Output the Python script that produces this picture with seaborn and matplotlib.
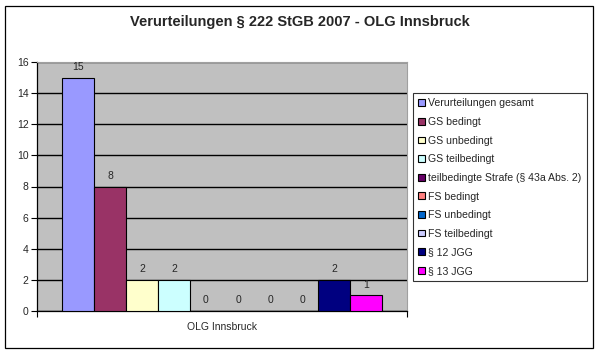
import pandas as pd
import matplotlib
matplotlib.use("Agg")
import matplotlib.pyplot as plt
import seaborn as sns
from matplotlib.patches import Rectangle

# Daten
region = "OLG Innsbruck"
serien = [
    "Verurteilungen gesamt",
    "GS bedingt",
    "GS unbedingt",
    "GS teilbedingt",
    "teilbedingte Strafe (§ 43a Abs. 2)",
    "FS bedingt",
    "FS unbedingt",
    "FS teilbedingt",
    "§ 12 JGG",
    "§ 13 JGG",
]
werte = [15, 8, 2, 2, 0, 0, 0, 0, 2, 1]
farben = ["#9999FF", "#993366", "#FFFFCC", "#CCFFFF", "#660066",
          "#FF8080", "#0066CC", "#CCCCFF", "#000080", "#FF00FF"]

df = pd.DataFrame({"Region": [region] * len(serien), "Serie": serien, "Anzahl": werte})

sns.set_style("white")
plt.rcParams["font.family"] = ["Liberation Sans", "DejaVu Sans"]

fig = plt.figure(figsize=(5.99, 3.53), dpi=100)
ax = fig.add_axes([37 / 599, 1 - 311 / 353, 370 / 599, 249 / 353])

sns.barplot(data=df, x="Region", y="Anzahl", hue="Serie", hue_order=serien,
            palette=farben, saturation=1, width=0.865, edgecolor="black",
            linewidth=0.8, ax=ax, zorder=3)

ax.set_facecolor("#C0C0C0")
ax.set_xlim(-0.5, 0.5)
ax.set_ylim(0, 16)
ax.set_yticks(range(0, 17, 2))
ax.yaxis.grid(True, color="black", linewidth=1.0, zorder=0)
ax.set_axisbelow(True)
ax.set_xlabel("")
ax.set_ylabel("")
ax.tick_params(axis="y", labelsize=7.5, length=4, width=0.8, color="black", left=True, pad=2)
ax.tick_params(axis="x", labelsize=7.5, length=0, pad=8)
ax.set_xticks([-0.5, 0.5], minor=True)
ax.tick_params(axis="x", which="minor", length=4, width=0.8, color="black", bottom=True)
for s in ["left", "bottom"]:
    ax.spines[s].set_color("black")
    ax.spines[s].set_linewidth(0.9)
for s in ["top", "right"]:
    ax.spines[s].set_color("#A0A0A0")
    ax.spines[s].set_linewidth(0.8)

for c in ax.containers:
    ax.bar_label(c, fmt="%g", padding=4, fontsize=7.5)

handles, labels = ax.get_legend_handles_labels()
ax.get_legend().remove()
leg = fig.legend(handles, labels, loc="upper left",
                 bbox_to_anchor=(413 / 599, 1 - 93 / 353),
                 fontsize=7.6, frameon=True, fancybox=False, edgecolor="black",
                 handlelength=0.6, handleheight=0.6, handletextpad=0.35,
                 labelspacing=0.82, borderpad=0.5, borderaxespad=0)
leg.get_frame().set_linewidth(0.8)

fig.suptitle("Verurteilungen § 222 StGB 2007 - OLG Innsbruck",
             x=0.5, y=1 - 15 / 353, va="top", fontsize=10.5, fontweight="bold")

fig.patches.append(Rectangle((5 / 599, 5 / 353), 588 / 599, 342 / 353,
                             transform=fig.transFigure, fill=False,
                             edgecolor="black", linewidth=0.9))

fig.savefig("out.png", dpi=100)
